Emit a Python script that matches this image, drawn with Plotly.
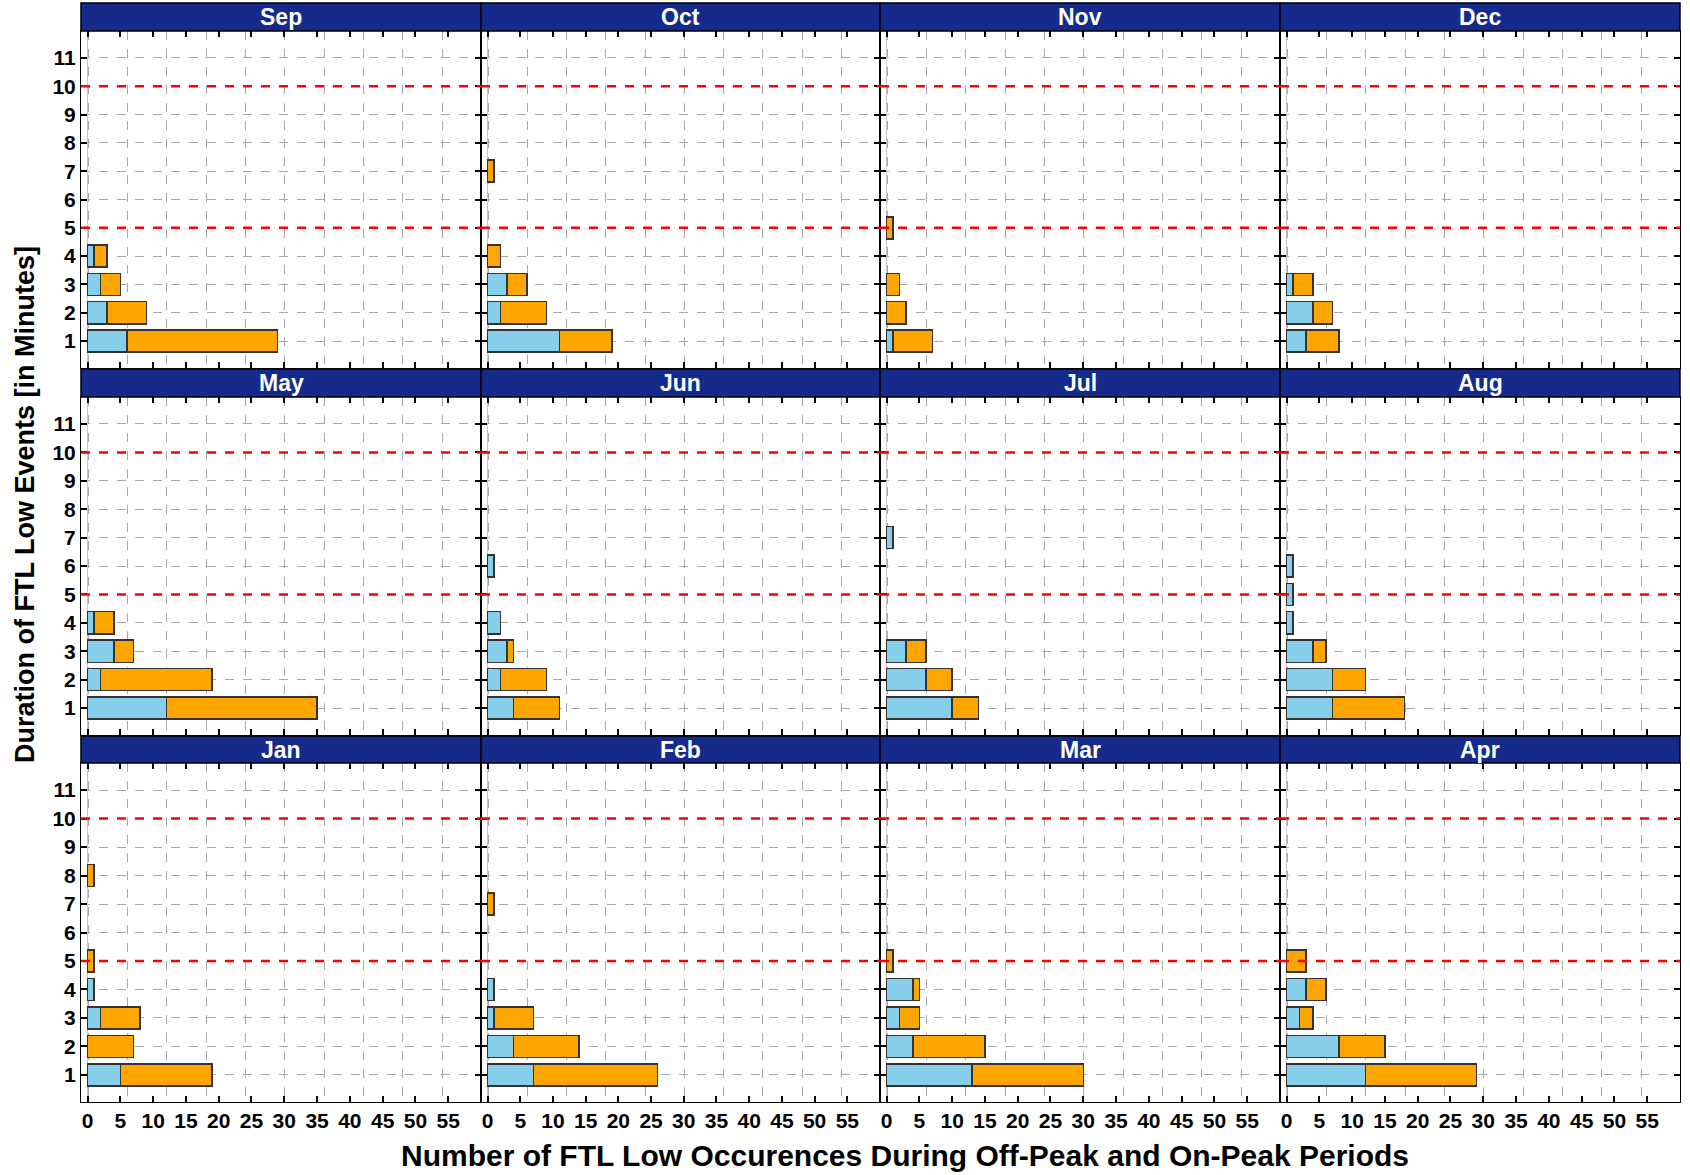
import plotly.graph_objects as go

# durations of FTL low events, in minutes
durations = [1, 2, 3, 4, 5, 6, 7, 8, 9, 10, 11]

# panel order on the page (left to right, top to bottom)
months = ["Sep", "Oct", "Nov", "Dec",
          "May", "Jun", "Jul", "Aug",
          "Jan", "Feb", "Mar", "Apr"]

# number of occurences for durations 1..11 min
off_peak = {
    "Sep": [6, 3, 2, 1, 0, 0, 0, 0, 0, 0, 0],
    "Oct": [11, 2, 3, 0, 0, 0, 0, 0, 0, 0, 0],
    "Nov": [1, 0, 0, 0, 0, 0, 0, 0, 0, 0, 0],
    "Dec": [3, 4, 1, 0, 0, 0, 0, 0, 0, 0, 0],
    "May": [12, 2, 4, 1, 0, 0, 0, 0, 0, 0, 0],
    "Jun": [4, 2, 3, 2, 0, 1, 0, 0, 0, 0, 0],
    "Jul": [10, 6, 3, 0, 0, 0, 1, 0, 0, 0, 0],
    "Aug": [7, 7, 4, 1, 1, 1, 0, 0, 0, 0, 0],
    "Jan": [5, 0, 2, 1, 0, 0, 0, 0, 0, 0, 0],
    "Feb": [7, 4, 1, 1, 0, 0, 0, 0, 0, 0, 0],
    "Mar": [13, 4, 2, 4, 0, 0, 0, 0, 0, 0, 0],
    "Apr": [12, 8, 2, 3, 0, 0, 0, 0, 0, 0, 0],
}
on_peak = {
    "Sep": [23, 6, 3, 2, 0, 0, 0, 0, 0, 0, 0],
    "Oct": [8, 7, 3, 2, 0, 0, 1, 0, 0, 0, 0],
    "Nov": [6, 3, 2, 0, 1, 0, 0, 0, 0, 0, 0],
    "Dec": [5, 3, 3, 0, 0, 0, 0, 0, 0, 0, 0],
    "May": [23, 17, 3, 3, 0, 0, 0, 0, 0, 0, 0],
    "Jun": [7, 7, 1, 0, 0, 0, 0, 0, 0, 0, 0],
    "Jul": [4, 4, 3, 0, 0, 0, 0, 0, 0, 0, 0],
    "Aug": [11, 5, 2, 0, 0, 0, 0, 0, 0, 0, 0],
    "Jan": [14, 7, 6, 0, 1, 0, 0, 1, 0, 0, 0],
    "Feb": [19, 10, 6, 0, 0, 0, 1, 0, 0, 0, 0],
    "Mar": [17, 11, 3, 1, 1, 0, 0, 0, 0, 0, 0],
    "Apr": [17, 7, 2, 3, 3, 0, 0, 0, 0, 0, 0],
}

# limit lines (minutes)
limits = [5, 10]
x_ticks = list(range(0, 60, 5))

W, H = 1690, 1175
col_edges = [81, 481, 880, 1280, 1680]
row_boxes = [(3, 31, 368), (369, 397, 735), (736, 763, 1102)]  # header top, plot top, plot bottom

FONT = "Liberation Sans, Arial, sans-serif"
BLUE = "#87CEEB"
ORANGE = "#FFA500"
HEADER = "#152a8a"

fig = go.Figure()
layout = {}
shapes = []
annotations = []


def nz(vals):
    return [v if v else None for v in vals]


for i, m in enumerate(months):
    r, c = divmod(i, 4)
    n = "" if i == 0 else str(i + 1)
    hdr_top, top, bottom = row_boxes[r]
    xa, ya = "x" + n, "y" + n

    fig.add_trace(go.Bar(y=durations, x=nz(off_peak[m]), orientation="h",
                         name="Off-Peak", xaxis=xa, yaxis=ya, width=0.78,
                         marker={"color": BLUE, "line": {"color": "#333333", "width": 1.5}},
                         showlegend=False))
    fig.add_trace(go.Bar(y=durations, x=nz(on_peak[m]), orientation="h",
                         name="On-Peak", xaxis=xa, yaxis=ya, width=0.78,
                         marker={"color": ORANGE, "line": {"color": "#333333", "width": 1.5}},
                         showlegend=False))

    layout["xaxis" + n] = dict(
        domain=[col_edges[c] / W, col_edges[c + 1] / W], anchor=ya,
        range=[-1, 60], tickvals=x_ticks, showticklabels=(r == 2),
        ticks="inside", ticklen=6, tickwidth=1.5, tickcolor="black",
        showline=True, linecolor="black", linewidth=1, mirror="allticks",
        showgrid=False, zeroline=True, zerolinecolor="#c8c8c8", zerolinewidth=1,
        minor=dict(tick0=0.1, dtick=6, showgrid=True, gridcolor="#a8a8a8",
                   griddash="dash", gridwidth=1, ticks=""),
        tickfont=dict(family=FONT, size=21, color="black", weight="bold"),
    )
    layout["yaxis" + n] = dict(
        domain=[1 - bottom / H, 1 - top / H], anchor=xa,
        range=[0.05, 11.95], tickvals=durations, showticklabels=(c == 0),
        ticks="inside", ticklen=6, tickwidth=1.5, tickcolor="black",
        showline=True, linecolor="black", linewidth=1, mirror="allticks",
        showgrid=True, gridcolor="#a8a8a8", griddash="dash", gridwidth=1,
        zeroline=False,
        tickfont=dict(family=FONT, size=21, color="black", weight="bold"),
    )

    # limit lines
    for lim in limits:
        shapes.append(dict(type="line", xref=xa + " domain", yref=ya,
                           x0=0, x1=1, y0=lim, y1=lim,
                           line=dict(color="red", width=2.5, dash="dash")))

    # month header strip
    shapes.append(dict(type="rect", xref="paper", yref="paper",
                       x0=col_edges[c] / W, x1=col_edges[c + 1] / W,
                       y0=1 - top / H, y1=1 - hdr_top / H,
                       fillcolor=HEADER, line=dict(color="black", width=1.5)))
    annotations.append(dict(text=m, xref="paper", yref="paper", showarrow=False,
                            x=(col_edges[c] + col_edges[c + 1]) / 2 / W,
                            y=1 - (hdr_top + top) / 2 / H,
                            xanchor="center", yanchor="middle",
                            font=dict(family=FONT, size=23, color="white", weight="bold")))

annotations.append(dict(text="Number of FTL Low Occurences During Off-Peak and On-Peak Periods",
                        xref="paper", yref="paper", x=905 / W,
                        y=1 - 1155 / H, xanchor="center", yanchor="middle", showarrow=False,
                        font=dict(family=FONT, size=30, color="black", weight="bold")))
annotations.append(dict(text="Duration of FTL Low Events [in Minutes]",
                        xref="paper", yref="paper", x=25 / W, y=1 - 505 / H,
                        xanchor="center", yanchor="middle", showarrow=False, textangle=-90,
                        font=dict(family=FONT, size=27, color="black", weight="bold")))

fig.update_layout(**layout)
fig.update_layout(width=W, height=H, margin=dict(l=0, r=0, t=0, b=0),
                  barmode="stack", bargap=0.22, plot_bgcolor="white", paper_bgcolor="white",
                  showlegend=False, shapes=shapes, annotations=annotations)
fig.write_html("out.html", config={"displayModeBar": False},
               post_script="document.body.style.margin = '0';")
